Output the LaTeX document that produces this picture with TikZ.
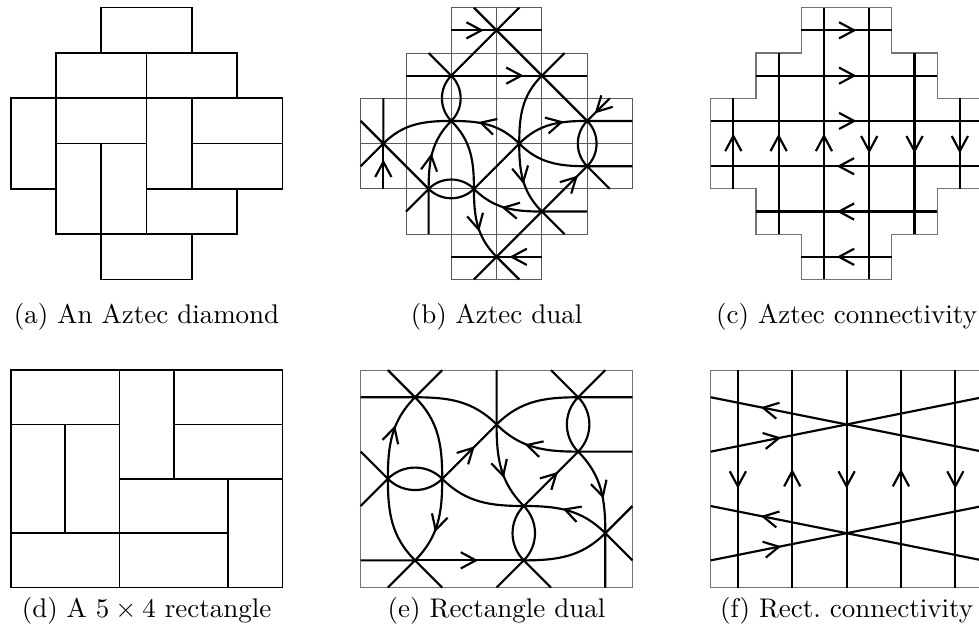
\documentclass[tikz,border=0pt]{standalone}
\usepackage{amsmath,amssymb}
\usepackage{tikz}
\usetikzlibrary{decorations.markings}

\tikzset{
  domino/.style={draw=black,line width=0.6pt},
  cellgrid/.style={draw=black!65,line width=0.35pt},
  panelrim/.style={draw=black!55,line width=0.4pt},
  strand/.style={draw=black,line width=0.8pt},
  barb/.style={draw=black,line width=0.8pt},
  flow/.style={postaction={decorate},decoration={markings,
    mark=at position #1 with {\draw[barb] (-2.8pt,3pt) -- (2.8pt,0pt) -- (-2.8pt,-3pt);}}},
  subcap/.style={anchor=base}
}

\begin{document}
\begin{tikzpicture}[x=0.59cm,y=0.59cm]
\useasboundingbox (-0.236,-7.78) rectangle (21.375,6.17);

% (a) tiling of the Aztec diamond
\begin{scope}
  \foreach \x/\y/\w/\h in {2/5/2/1, 1/4/2/1, 3/4/2/1, 0/2/1/2, 1/3/2/1, 3/2/1/2,
                           4/3/2/1, 1/1/1/2, 2/1/1/2, 4/2/2/1, 3/1/2/1, 2/0/2/1}
    \draw[domino] (\x,\y) rectangle ++(\w,\h);
\end{scope}

% (b) dual strands
\begin{scope}[shift={(7.726,0)}]
  \foreach \y/\a/\b in {0/2/4, 1/1/5, 2/0/6, 3/0/6, 4/1/5, 5/2/4} {
    \draw[cellgrid] (\a,\y) rectangle (\b,\y+1);
    \foreach \x in {\a,...,\b}
      \draw[cellgrid] (\x,\y) -- (\x,\y+1);
  }
  \coordinate (p1) at (3,5.5);
  \coordinate (p2) at (2,4.5);
  \coordinate (p3) at (4,4.5);
  \coordinate (p4) at (0.5,3);
  \coordinate (p5) at (2,3.5);
  \coordinate (p6) at (3.5,3);
  \coordinate (p7) at (5,3.5);
  \coordinate (p8) at (1.5,2);
  \coordinate (p9) at (2.5,2);
  \coordinate (p10) at (5,2.5);
  \coordinate (p11) at (4,1.5);
  \coordinate (p12) at (3,0.5);
  \draw[strand] (p1) -- ++(-0.5,0.5) (p1) -- ++(0.5,0.5) (p1) -- (p2) (p1) -- (p3)
    (p2) -- ++(-0.5,0.5) (p3) -- ++(0.5,0.5) (p3) -- (p7)
    (p4) -- ++(-0.5,0.5) (p4) -- ++(-0.5,-0.5) (p4) -- (p8) (p4) -- ++(0,1)
    (p8) -- ++(-0.5,-0.5) (p8) -- ++(0,-1) (p9) -- (p6)
    (p7) -- ++(1,0) (p10) -- ++(1,0) (p10) -- ++(0.5,-0.5)
    (p11) -- ++(1,0) (p11) -- ++(0.5,-0.5) (p11) -- (p12)
    (p12) -- ++(-0.5,-0.5) (p12) -- ++(0.5,-0.5);
  \draw[strand] (p2) to[out=-45,in=45] (p5) (p2) to[out=-135,in=135] (p5)
    (p4) to[out=45,in=180] (p5) (p5) to[out=-45,in=90] (p9)
    (p6) to[out=-45,in=180] (p10) (p3) to[out=-135,in=90] (p6)
    (p8) to[out=45,in=135] (p9) (p8) to[out=-45,in=-135] (p9)
    (p7) to[out=-45,in=45] (p10) (p7) to[out=-135,in=135] (p10);
  \draw[strand,flow=0.25] (2,5.5) -- (4,5.5);
  \draw[strand,flow=0.595] (1,4.5) -- (5,4.5);
  \draw[strand,flow=0.25] (4,0.5) -- (2,0.5);
  \draw[strand,flow=0.43] (0.5,2) -- (p4);
  \draw[strand,flow=0.36] (5.5,4) -- (p7);
  \draw[strand,flow=0.64] (p11) -- (p10);
  \draw[strand,flow=0.35] (p8) to[out=90,in=-135] (p5);
  \draw[strand,flow=0.45] (p9) to[out=-90,in=135] (p12);
  \draw[strand,flow=0.5] (p6) to[out=135,in=0] (p5);
  \draw[strand,flow=0.55] (p6) to[out=45,in=180] (p7);
  \draw[strand,flow=0.42] (p11) to[out=180,in=-45] (p9);
  \draw[strand,flow=0.42] (p6) to[out=-90,in=135] (p11);
\end{scope}

% (c) connectivity of the Aztec diamond
\begin{scope}[shift={(15.452,0)}]
  \draw[panelrim] (2,0) -- (4,0) -- (4,1) -- (5,1) -- (5,2) -- (6,2) -- (6,4) -- (5,4)
    -- (5,5) -- (4,5) -- (4,6) -- (2,6) -- (2,5) -- (1,5) -- (1,4) -- (0,4) -- (0,2)
    -- (1,2) -- (1,1) -- (2,1) -- cycle;
  \foreach \y/\a/\b in {5.5/2/4, 4.5/1/5, 3.5/0/6, 2.5/6/0, 1.5/5/1, 0.5/4/2}
    \draw[strand,flow=0.5] (\a,\y) -- (\b,\y);
  \foreach \x/\a/\b in {0.5/2/4, 1.5/1/5, 2.5/0/6, 3.5/6/0, 4.5/5/1, 5.5/4/2}
    \draw[strand,flow=0.5] (\x,\a) -- (\x,\b);
\end{scope}

% (d) tiling of the rectangle
\begin{scope}[shift={(0,-6.8)},x=0.708cm,y=0.708cm]
  \foreach \x/\y/\w/\h in {0/3/2/1, 2/2/1/2, 3/3/2/1, 0/1/1/2, 1/1/1/2,
                           3/2/2/1, 2/1/2/1, 4/0/1/2, 0/0/2/1, 2/0/2/1}
    \draw[domino] (\x,\y) rectangle ++(\w,\h);
\end{scope}

% (e) dual strands of the rectangle
\begin{scope}[shift={(7.726,-6.8)},x=0.708cm,y=0.708cm]
  \draw[panelrim] (0,0) rectangle (5,4);
  \coordinate (q1) at (1,3.5);
  \coordinate (q2) at (2.5,3);
  \coordinate (q3) at (4,3.5);
  \coordinate (q4) at (0.5,2);
  \coordinate (q5) at (1.5,2);
  \coordinate (q6) at (4,2.5);
  \coordinate (q7) at (3,1.5);
  \coordinate (q8) at (4.5,1);
  \coordinate (q9) at (1,0.5);
  \coordinate (q10) at (3,0.5);
  \draw[strand] (q1) -- ++(-1,0) (q1) -- ++(-0.5,0.5) (q1) -- ++(0.5,0.5)
    (q2) -- ++(0,1) (q3) -- ++(-0.5,0.5) (q3) -- ++(0.5,0.5) (q3) -- ++(1,0)
    (q4) -- ++(-0.5,0.5) (q4) -- ++(-0.5,-0.5) (q6) -- ++(1,0)
    (q8) -- ++(0,-1) (q8) -- ++(0.5,0.5) (q8) -- ++(0.5,-0.5)
    (q9) -- ++(-1,0) (q9) -- ++(-0.5,-0.5) (q9) -- ++(0.5,-0.5)
    (q10) -- ++(-0.5,-0.5) (q10) -- ++(0.5,-0.5);
  \draw[strand] (q1) to[out=0,in=135] (q2) (q2) to[out=45,in=180] (q3)
    (q4) to[out=45,in=135] (q5) (q4) to[out=-45,in=-135] (q5)
    (q5) to[out=-45,in=180] (q7) (q10) to[out=0,in=-135] (q8)
    (q1) to[out=-45,in=90] (q5) (q4) to[out=-90,in=135] (q9)
    (q7) to[out=-45,in=45] (q10) (q7) to[out=-135,in=135] (q10)
    (q3) to[out=-45,in=45] (q6) (q3) to[out=-135,in=135] (q6);
  \draw[strand,flow=0.47] (q5) -- (q2);
  \draw[strand,flow=0.5] (q7) -- (q6);
  \draw[strand,flow=0.49] (q9) -- (q10);
  \draw[strand,flow=0.5] (q4) to[out=90,in=-135] (q1);
  \draw[strand,flow=0.5] (q5) to[out=-90,in=45] (q9);
  \draw[strand,flow=0.5] (q2) to[out=-90,in=135] (q7);
  \draw[strand,flow=0.5] (q6) to[out=180,in=-45] (q2);
  \draw[strand,flow=0.5] (q6) to[out=-45,in=90] (q8);
  \draw[strand,flow=0.45] (q8) to[out=135,in=0] (q7);
\end{scope}

% (f) connectivity of the rectangle
\begin{scope}[shift={(15.452,-6.8)},x=0.708cm,y=0.708cm]
  \draw[panelrim] (0,0) rectangle (5,4);
  \foreach \x/\a/\b in {0.5/4/0, 1.5/0/4, 2.5/4/0, 3.5/0/4, 4.5/4/0}
    \draw[strand,flow=0.5] (\x,\a) -- (\x,\b);
  \draw[strand,flow=0.78] (5,2.5) -- (0,3.5);
  \draw[strand,flow=0.224] (0,2.5) -- (5,3.5);
  \draw[strand,flow=0.78] (5,0.5) -- (0,1.5);
  \draw[strand,flow=0.224] (0,0.5) -- (5,1.5);
\end{scope}

\node[subcap] (capa) at (3,-0.98) {(a) An Aztec diamond};
\node[subcap] (capb) at (10.726,-0.98) {(b) Aztec dual};
\node[subcap] (capc) at (18.452,-0.98) {(c) Aztec connectivity};
\node[subcap] (capd) at (3,-7.47) {(d) A $5\times 4$ rectangle};
\node[subcap] (cape) at (10.726,-7.47) {(e) Rectangle dual};
\node[subcap] (capf) at (18.452,-7.47) {(f) Rect.\ connectivity};
\end{tikzpicture}
\end{document}
